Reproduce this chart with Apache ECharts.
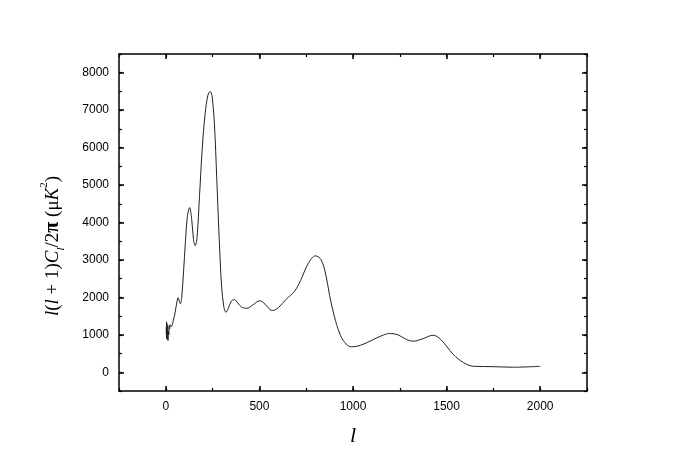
<!DOCTYPE html>
<html><head><meta charset="utf-8">
<script src="https://cdn.jsdelivr.net/npm/echarts@6/dist/echarts.min.js"></script>
<style>html,body{margin:0;padding:0;background:#fff}#c{width:682px;height:472px}</style>
</head><body><div id="c"></div>
<script>
var ells = [2,3,4,5,6,7,8,9,10,12,14,16,18,20,24,30,40,50,60,66,72,78,85,95,105,115,127,138,148,157,167,180,195,210,225,237,248,260,272,285,298,310,321,335,350,366,385,405,434,465,502,530,555,571,600,643,687,720,760,800,830,855,875,900,928,955,991,1040,1107,1150,1196,1240,1280,1321,1370,1428,1470,1535,1590,1643,1750,1857,2000];
var cls = [1200,1000,1350,900,1300,880,1250,950,1180,850,1100,1000,1250,1150,1270,1220,1380,1600,1900,1990,1900,1830,2000,2700,3500,4150,4400,4100,3550,3380,3600,4700,6000,6900,7400,7500,7350,6600,5200,3600,2300,1750,1600,1720,1900,1940,1850,1740,1710,1800,1910,1820,1680,1650,1720,1950,2160,2450,2900,3110,3000,2600,2050,1500,1050,800,680,720,870,970,1035,1000,890,830,890,990,870,480,260,160,150,135,160];
var xTicks = [0,500,1000,1500,2000];
var yTicks = [0,1000,2000,3000,4000,5000,6000,7000,8000];

var data = ells.map(function(l,i){return [l, cls[i]];});
var chart = echarts.init(document.getElementById('c'));
var X0 = -250, X1 = 2250, Y0 = -500, Y1 = 8500;
var lbl = {color:'#000', fontSize:12, fontFamily:'Liberation Sans, Arial, sans-serif'};
var lineOn = {show:true, onZero:false, lineStyle:{color:'#000', width:1.5}};
var lineOff = {show:false, onZero:false};
function majorTick(vals){ return {show:true, inside:true, length:5, customValues:vals, lineStyle:{color:'#000', width:1.5}}; }
var minorTick = {show:true, inside:true, length:3, lineStyle:{color:'#000', width:1.2}};
function xAx(pos, labels){
  return {type:'value', position:pos, min:X0, max:X1, axisLine:lineOn, axisTick:majorTick(xTicks),
    splitLine:{show:false},
    axisLabel: labels ? Object.assign({margin:10, customValues:xTicks, formatter:function(v){return String(v);}}, lbl) : {show:false}};
}
function xMinor(pos){
  return {type:'value', position:pos, min:X0, max:X1, interval:250, axisLine:lineOff, axisTick:minorTick,
    splitLine:{show:false}, axisLabel:{show:false}};
}
function yAx(pos, labels){
  return {type:'value', position:pos, min:Y0, max:Y1, axisLine:lineOn, axisTick:majorTick(yTicks),
    splitLine:{show:false},
    axisLabel: labels ? Object.assign({margin:10, customValues:yTicks, formatter:function(v){return String(v);}}, lbl) : {show:false}};
}
function yMinor(pos){
  return {type:'value', position:pos, min:Y0, max:Y1, interval:500, axisLine:lineOff, axisTick:minorTick,
    splitLine:{show:false}, axisLabel:{show:false}};
}
var xb = xAx('bottom', true);
xb.name = 'l'; xb.nameLocation = 'middle'; xb.nameGap = 34;
xb.nameTextStyle = {fontFamily:'Liberation Serif, Times New Roman, serif', fontStyle:'italic', fontSize:22, color:'#000'};
var serif = 'Liberation Serif, Times New Roman, serif';
var fs = 19;
chart.setOption({
  animation:false,
  grid:{left:119, right:95, top:54, bottom:81, containLabel:false},
  xAxis:[xb, xAx('top', false), xMinor('bottom'), xMinor('top')],
  yAxis:[yAx('left', true), yAx('right', false), yMinor('left'), yMinor('right')],
  graphic:[{
    type:'text', x:53, y:246, rotation:Math.PI/2,
    style:{
      text:'{i|l}{n|(}{i|l}{n| + 1)}{i|C}{sub|l}{n|/2}{b|π}{n| (μ}{i|K}{sup|2}{n|)}',
      align:'center', verticalAlign:'middle', fill:'#000', font: fs + 'px ' + serif,
      rich:{
        i:{fontFamily:serif, fontStyle:'italic', fontSize:fs, fill:'#000', lineHeight:28},
        n:{fontFamily:serif, fontSize:fs, fill:'#000', lineHeight:28},
        b:{fontFamily:serif, fontWeight:'bold', fontSize:fs+1, fill:'#000', lineHeight:28},
        sub:{fontFamily:serif, fontStyle:'italic', fontSize:11, fill:'#000', verticalAlign:'bottom', lineHeight:28},
        sup:{fontFamily:serif, fontSize:11, fill:'#000', verticalAlign:'top', lineHeight:28}
      }
    }
  }],
  series:[{type:'line', data:data, showSymbol:false, smooth:0.35, lineStyle:{color:'#222', width:1}, xAxisIndex:0, yAxisIndex:0}]
});
</script></body></html>
